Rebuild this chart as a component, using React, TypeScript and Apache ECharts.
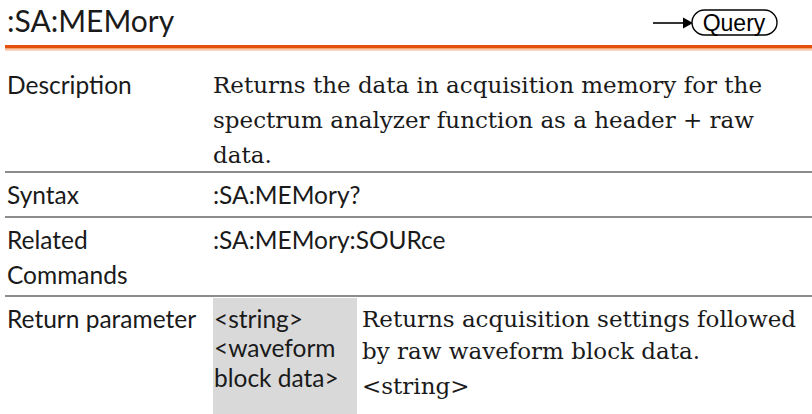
import { useEffect, useRef } from "react";
import * as echarts from "echarts";

// ---- content ----
const TITLE = ":SA:MEMory";
const BADGE = "Query";
const ROW_LABELS = ["Description", "Syntax", "Related\nCommands", "Return parameter"];
const DESCRIPTION_LINES = [
  "Returns the data in acquisition memory for the",
  "spectrum analyzer function as a header + raw",
  "data.",
];
const SYNTAX_VALUE = ":SA:MEMory?";
const RELATED_VALUE = ":SA:MEMory:SOURce";
const RETURN_PARAM_LINES = ["<string>", "<waveform", "block data>"];
const RETURN_DESC_LINES = ["Returns acquisition settings followed", "by raw waveform block data."];
const RETURN_SUB = "<string>";

// ---- layout ----
const W = 812;
const H = 414;
const SANS = "Lato, 'Open Sans', sans-serif";
const SERIF = "'DejaVu Serif', 'Liberation Serif', serif";
const FS_SANS = 24.5;
const FS_SERIF = 23;
const COL0 = 7;
const COL1 = 213;
const COL2 = 362;

function textAt(text: string, x: number, baseline: number, font: string, size: number, extra: any = {}) {
  return {
    type: "text",
    x,
    y: baseline - size * 0.35,
    style: {
      text,
      fontFamily: font,
      fontSize: size,
      lineHeight: Math.round(size * 1.05),
      fill: "#1a1a1a",
      verticalAlign: "middle",
      align: "left",
      ...extra,
    },
  };
}

export default function App() {
  const ref = useRef<HTMLDivElement>(null);
  useEffect(() => {
    if (!ref.current) return;
    const chart = echarts.init(ref.current, undefined, { renderer: "svg" });
    const g: any[] = [];
    // title
    g.push(textAt(TITLE, COL0, 30, SANS, 30));
    // orange rule
    g.push({ type: "rect", shape: { x: 5, y: 45, width: W - 5, height: 3.2 }, style: { fill: "#e2500c" } });
    g.push({ type: "rect", shape: { x: 5, y: 48.2, width: W - 5, height: 1.3 }, style: { fill: "#f2925a" } });
    g.push({ type: "rect", shape: { x: 5, y: 49.5, width: W - 5, height: 1.2 }, style: { fill: "#f9c9a6" } });
    // query badge
    g.push({ type: "line", shape: { x1: 653, y1: 23, x2: 684, y2: 23 }, style: { stroke: "#000", lineWidth: 1.6 } });
    g.push({ type: "polygon", shape: { points: [[683, 17.5], [693, 23], [683, 28.5]] }, style: { fill: "#000" } });
    g.push({
      type: "rect",
      shape: { x: 692, y: 10, width: 85, height: 25, r: 12.5 },
      style: { fill: "#fff", stroke: "#000", lineWidth: 1.4 },
    });
    g.push({
      type: "text",
      x: 734,
      y: 22.5,
      style: { text: BADGE, fontFamily: "'Liberation Sans', Arial, sans-serif", fontSize: 23, lineHeight: 24, fill: "#000", align: "center", verticalAlign: "middle" },
    });
    // gray rules
    [172, 217, 296].forEach((y) => {
      g.push({ type: "rect", shape: { x: 5, y: y - 1, width: W - 5, height: 2 }, style: { fill: "#8c8c8c" } });
    });
    // gray cell
    g.push({ type: "rect", shape: { x: 213, y: 298, width: 144, height: H - 298 }, style: { fill: "#d9d9d9" } });

    // Description
    g.push(textAt(ROW_LABELS[0], COL0, 93, SANS, FS_SANS));
    DESCRIPTION_LINES.forEach((t, i) => g.push(textAt(t, COL1, 93 + i * 35, SERIF, FS_SERIF)));
    // Syntax
    g.push(textAt(ROW_LABELS[1], COL0, 203, SANS, FS_SANS));
    g.push(textAt(SYNTAX_VALUE, COL1, 203, SANS, FS_SANS));
    // Related
    ROW_LABELS[2].split("\n").forEach((t, i) => g.push(textAt(t, COL0, 248 + i * 35, SANS, FS_SANS)));
    g.push(textAt(RELATED_VALUE, COL1, 248, SANS, FS_SANS));
    // Return parameter
    g.push(textAt(ROW_LABELS[3], COL0, 327, SANS, FS_SANS));
    RETURN_PARAM_LINES.forEach((t, i) => g.push(textAt(t, COL1 + 1, 327 + i * 29.5, SANS, FS_SANS)));
    RETURN_DESC_LINES.forEach((t, i) => g.push(textAt(t, COL2, 327 + i * 32, SERIF, FS_SERIF)));
    g.push(textAt(RETURN_SUB, COL2, 394, SERIF, FS_SERIF));

    chart.setOption({ animation: false, backgroundColor: "#ffffff", graphic: { elements: g } });
    return () => chart.dispose();
  }, []);
  return <div ref={ref} style={{ position: "fixed", left: 0, top: 0, width: W, height: H }} />;
}
